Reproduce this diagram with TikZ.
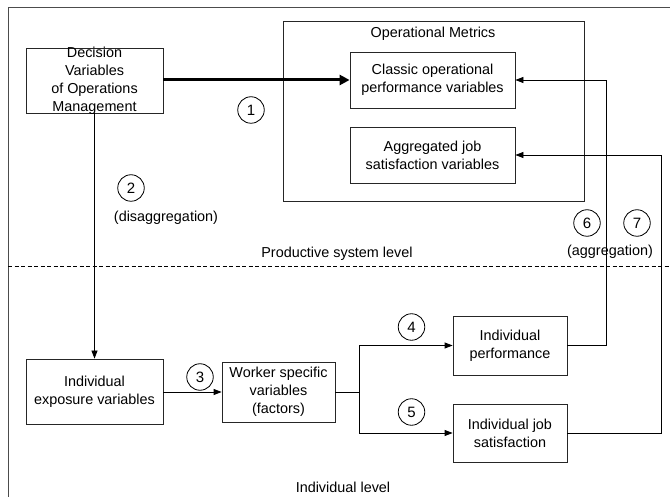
\documentclass[tikz,border=0pt]{standalone}
\usepackage{fontspec}
\setmainfont{Liberation Sans}
\usetikzlibrary{arrows.meta}
\begin{document}
\begin{tikzpicture}[x=1pt,y=-1pt,
  every node/.style={font=\fontsize{14.4}{18}\selectfont, align=center},
  box/.style={draw=black!85, line width=0.8pt, inner sep=0pt},
  conn/.style={draw=black, line width=0.8pt},
  arr/.style={conn, -{Triangle[length=8pt,width=6pt]}},
  thickarr/.style={draw=black, line width=3pt, -{Triangle[length=10pt,width=10pt]}},
  num/.style={draw=black, circle, line width=0.8pt, minimum size=26.5pt, inner sep=0pt, font=\fontsize{15}{18}\selectfont},
  lbl/.style={inner sep=0pt}]
\useasboundingbox (0,0) rectangle (670,497);
% frame
\draw[black!70, line width=0.9pt] (8,497) -- (8,7.5) -- (670,7.5);
\draw[black, line width=0.7pt, dash pattern=on 4pt off 2.5pt] (8,266) -- (670,266);
% boxes
\node[box, minimum width=301pt, minimum height=180pt] (om) at (433.5,111) {};
\node[lbl] (omt) at (433,34) {Operational Metrics};
\node[box, minimum width=137pt, minimum height=65pt] (dec) at (94.5,80.5) {};
\node[lbl] (dect) at (94.5,80.5) {Decision\\Variables\\of Operations\\Management};
\node[box, minimum width=165pt, minimum height=56pt] (classic) at (432.5,80) {Classic operational\\performance variables};
\node[box, minimum width=165pt, minimum height=56pt] (agg) at (432.5,155) {Aggregated job\\satisfaction variables};
\node[box, minimum width=137pt, minimum height=65pt] (exp) at (94.5,391.5) {Individual\\exposure variables};
\node[box, minimum width=113pt, minimum height=60pt] (worker) at (278.5,392) {Worker specific\\variables\\(factors)};
\node[box, minimum width=114pt, minimum height=59pt] (perf) at (510,345.5) {Individual\\performance};
\node[box, minimum width=114pt, minimum height=58pt] (job) at (510,433) {Individual job\\satisfaction};
% labels
\node[lbl] (psl) at (337,254) {Productive system level};
\node[lbl] (il) at (343,487) {Individual level};
\node[lbl] (dis) at (166,218) {(disaggregation)};
\node[lbl] (agl) at (610,252) {(aggregation)};
% numbers
\node[num] (n1) at (251,110) {1};
\node[num] (n2) at (131,188) {2};
\node[num] (n3) at (200,377) {3};
\node[num] (n4) at (411.5,327) {4};
\node[num] (n5) at (411.5,412) {5};
\node[num] (n6) at (587,223) {6};
\node[num] (n7) at (637,223) {7};
% connectors
\draw[thickarr] (dec.east |- classic.west) -- (classic.west);
\draw[arr] (dec.south) -- (exp.north);
\draw[arr] (exp.east |- worker.west) -- (worker.west);
\coordinate (split) at (359,392);
\draw[conn] (worker.east) -- (split);
\draw[arr] (split) |- (perf.west);
\draw[arr] (split) |- (job.west);
\coordinate (r6) at (606,80);
\coordinate (r7) at (661,155);
\draw[arr] (perf.east) -| (r6) -- (classic.east);
\draw[arr] (job.east) -| (r7) -- (agg.east);
\end{tikzpicture}
\end{document}
